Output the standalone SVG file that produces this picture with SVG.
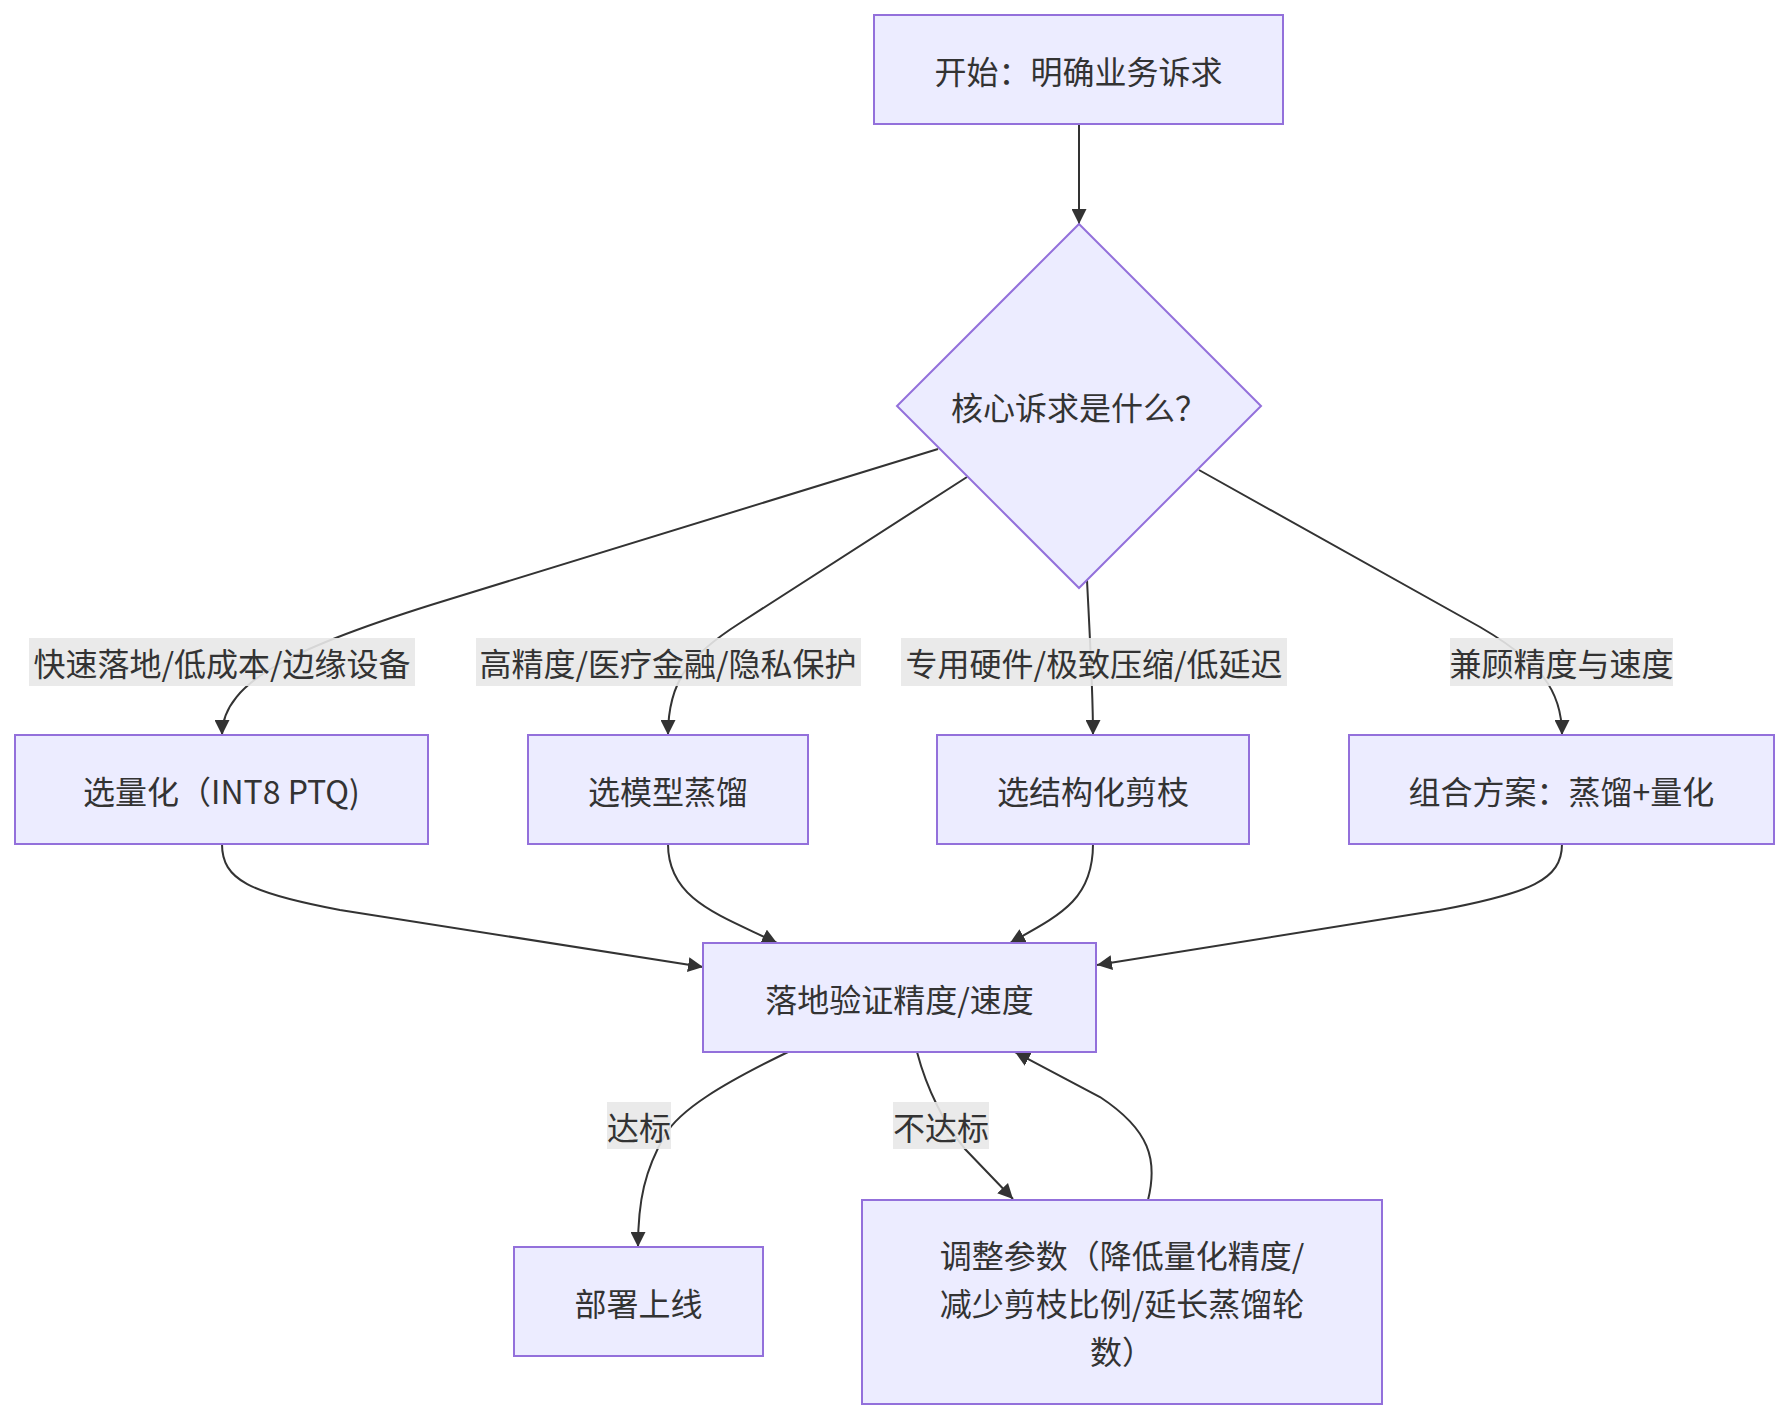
<svg xmlns="http://www.w3.org/2000/svg" width="1790" height="1420" viewBox="0 0 1790 1420">
<defs>
<marker id="arr" viewBox="0 0 10 10" refX="10" refY="5" markerWidth="15" markerHeight="15" markerUnits="userSpaceOnUse" orient="auto">
<path d="M0,0 L10,5 L0,10 z" fill="#333333"/>
</marker>
<style>
.node{fill:#ECECFF;stroke:#9370DB;stroke-width:2}
.edge{fill:none;stroke:#333333;stroke-width:2;marker-end:url(#arr)}
.lbg{fill:#e8e8e8;opacity:0.9}
text{font-family:"Noto Sans CJK SC","Noto Sans",sans-serif;font-size:32px;fill:#333333;text-anchor:middle;dominant-baseline:central}
</style>
</defs>
<rect width="1790" height="1420" fill="#ffffff"/>
<g id="connectors">
<path class="edge" d="M1079,124 L1079,224"/>
<path class="edge" d="M938,449 L447,600 C300,645 222,680 222,735"/>
<path class="edge" d="M967,477 L740,623 C690,655 668,680 668,735"/>
<path class="edge" d="M1087,580 C1090,640 1093,690 1093,735"/>
<path class="edge" d="M1199,470 L1480,627 C1540,662 1562,690 1562,735"/>
<path class="edge" d="M222,844 C222,880 250,893 340,910 L703,967"/>
<path class="edge" d="M668,844 C668,900 720,915 777,943"/>
<path class="edge" d="M1093,844 C1093,900 1060,915 1010,943"/>
<path class="edge" d="M1562,844 C1562,880 1530,893 1440,910 L1097,965"/>
<path class="edge" d="M788,1052 C720,1085 680,1110 665,1135 C645,1170 638,1200 638,1247"/>
<path class="edge" d="M917,1052 C927,1090 945,1125 965,1149 L1013,1199"/>
<path class="edge" d="M1148,1200 C1158,1160 1150,1130 1100,1097 L1015,1052"/>
<g id="edge-labels">
<rect class="lbg" x="29" y="638" width="386" height="48"/>
<text x="222" y="662">快速落地/低成本/边缘设备</text>
<rect class="lbg" x="476" y="638" width="385" height="48"/>
<text x="668" y="662">高精度/医疗金融/隐私保护</text>
<rect class="lbg" x="901" y="638" width="386" height="48"/>
<text x="1094" y="662">专用硬件/极致压缩/低延迟</text>
<rect class="lbg" x="1450" y="638" width="223" height="48"/>
<text x="1561.5" y="662">兼顾精度与速度</text>
<rect class="lbg" x="607" y="1102" width="64" height="47"/>
<text x="639" y="1125.5">达标</text>
<rect class="lbg" x="893" y="1102" width="96" height="47"/>
<text x="941" y="1125.5">不达标</text>
</g>
</g>
<g id="start">
<rect class="node" x="874" y="15" width="409" height="109"/>
<text x="1078.5" y="69.5">开始：明确业务诉求</text>
</g>
<g id="decision">
<polygon class="node" points="1079,224 1261,406 1079,588 897,406"/>
<text x="1079" y="406">核心诉求是什么？</text>
</g>
<g id="quant">
<rect class="node" x="15" y="735" width="413" height="109"/>
<text x="221.5" y="789.5">选量化（INT8 PTQ)</text>
</g>
<g id="distill">
<rect class="node" x="528" y="735" width="280" height="109"/>
<text x="668" y="789.5">选模型蒸馏</text>
</g>
<g id="prune">
<rect class="node" x="937" y="735" width="312" height="109"/>
<text x="1093" y="789.5">选结构化剪枝</text>
</g>
<g id="combo">
<rect class="node" x="1349" y="735" width="425" height="109"/>
<text x="1561.5" y="789.5">组合方案：蒸馏+量化</text>
</g>
<g id="verify">
<rect class="node" x="703" y="943" width="393" height="109"/>
<text x="899.5" y="997.5">落地验证精度/速度</text>
</g>
<g id="deploy">
<rect class="node" x="514" y="1247" width="249" height="109"/>
<text x="638.5" y="1301.5">部署上线</text>
</g>
<g id="adjust">
<rect class="node" x="862" y="1200" width="520" height="204"/>
<text x="1122" y="1254">调整参数（降低量化精度/</text>
<text x="1122" y="1302">减少剪枝比例/延长蒸馏轮</text>
<text x="1122" y="1350">数）</text>
</g>
</svg>
